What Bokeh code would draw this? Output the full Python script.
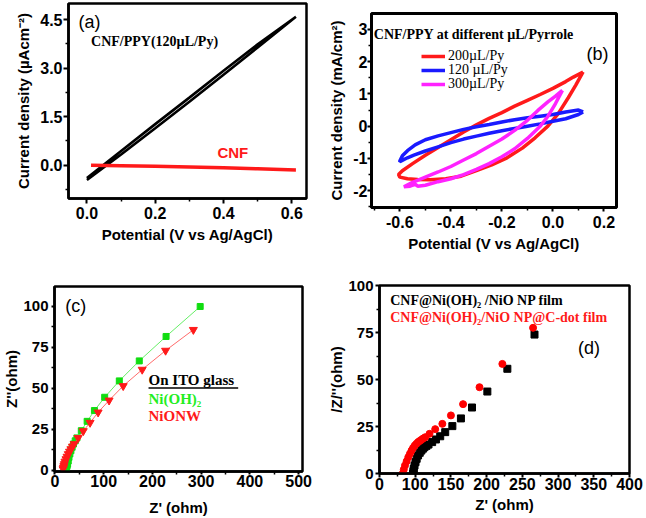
from bokeh.plotting import figure
from bokeh.layouts import row, column
from bokeh.models import Range1d, FixedTicker, PrintfTickFormatter, Label, Legend, LegendItem
from bokeh.embed import file_html
from bokeh.resources import INLINE

# ---------------- data ----------------
# (a) CV: CNF/PPY loop and bare CNF
a_ppy_x = [0.0, 0.1, 0.2, 0.3, 0.4, 0.5, 0.612, 0.5, 0.4, 0.3, 0.2, 0.1, 0.0]
a_ppy_y = [-0.46, 0.33, 1.14, 1.96, 2.80, 3.64, 4.59, 3.74, 2.92, 2.09, 1.27, 0.44, -0.40]
a_cnf_x = [0.012, 0.1, 0.2, 0.3, 0.4, 0.5, 0.612]
a_cnf_y = [0.0, -0.015, -0.035, -0.055, -0.08, -0.11, -0.145]
a_xticks = [0.0, 0.2, 0.4, 0.6]
a_xminor = [0.1, 0.3, 0.5]
a_yticks = [0.0, 1.5, 3.0, 4.5]
a_yminor = [-0.75, 0.75, 2.25, 3.75]

# (b) CV loops at different uL/Pyrrole
b_red_x = [0.118, 0.08, 0.05, 0.0, -0.05, -0.1, -0.15, -0.2, -0.25, -0.3, -0.35, -0.4, -0.45, -0.5,
           -0.55, -0.59, -0.605, -0.6, -0.57, -0.53, -0.48, -0.42, -0.36, -0.3, -0.24, -0.18, -0.12,
           -0.07, -0.02, 0.02, 0.06, 0.09, 0.118]
b_red_y = [1.68, 1.52, 1.38, 1.17, 0.98, 0.80, 0.62, 0.42, 0.24, 0.04, -0.18, -0.42, -0.66, -0.90,
           -1.16, -1.38, -1.50, -1.58, -1.63, -1.65, -1.66, -1.63, -1.55, -1.38, -1.20, -0.98, -0.68,
           -0.36, 0.0, 0.38, 0.88, 1.28, 1.68]
b_blue_x = [0.118, 0.1, 0.05, 0.0, -0.05, -0.1, -0.15, -0.2, -0.25, -0.3, -0.35, -0.4, -0.45, -0.5,
            -0.54, -0.57, -0.59, -0.6, -0.6, -0.57, -0.545, -0.5, -0.45, -0.4, -0.35, -0.3, -0.25,
            -0.2, -0.15, -0.1, -0.05, 0.0, 0.05, 0.1, 0.118]
b_blue_y = [0.44, 0.50, 0.44, 0.36, 0.31, 0.26, 0.20, 0.13, 0.05, -0.02, -0.10, -0.20, -0.30, -0.42,
            -0.58, -0.76, -0.92, -1.08, -1.10, -0.98, -0.90, -0.77, -0.64, -0.51, -0.40, -0.31, -0.22,
            -0.14, -0.07, 0.0, 0.07, 0.15, 0.23, 0.36, 0.44]
b_mag_x = [0.037, 0.01, -0.02, -0.06, -0.1, -0.15, -0.2, -0.25, -0.3, -0.35, -0.4, -0.45, -0.5, -0.55,
           -0.584, -0.56, -0.54, -0.53, -0.5, -0.45, -0.4, -0.35, -0.3, -0.25, -0.2, -0.15, -0.1,
           -0.05, -0.02, 0.01, 0.037]
b_mag_y = [1.11, 0.93, 0.75, 0.48, 0.18, -0.13, -0.40, -0.62, -0.85, -1.05, -1.25, -1.42, -1.58, -1.74,
           -1.88, -1.86, -1.80, -1.86, -1.83, -1.72, -1.63, -1.50, -1.34, -1.16, -0.95, -0.70, -0.38,
           0.0, 0.30, 0.70, 1.11]
b_labels = ["200\u00b5L/Py", "120 \u00b5L/Py", "300\u00b5L/Py"]
b_xticks = [-0.6, -0.4, -0.2, 0.0, 0.2]
b_xminor = [-0.7, -0.5, -0.3, -0.1, 0.1]
b_yticks = [-2, -1, 0, 1, 2, 3]
b_yminor = [-2.5, -1.5, -0.5, 0.5, 1.5, 2.5]

# (c) Nyquist on ITO glass
c_ni_x = [23.2, 24.0, 25.0, 25.9, 27.2, 28.7, 30.5, 32.7, 35.2, 38.0, 41.5, 45.0, 54, 66, 81, 102, 132, 173, 228, 298]
c_ni_y = [0.0, 1.5, 2.8, 3.7, 5.5, 7.7, 9.8, 11.8, 13.9, 15.9, 17.8, 19.6, 24.0, 29.7, 36.3, 44.4, 54.4, 66.6, 81.5, 99.8]
c_nw_x = [16.6, 17.5, 18.2, 19.2, 20.5, 22.6, 24.8, 27.3, 29.8, 32.7, 36.0, 39.4, 47.5, 58, 72, 88.5, 111, 140, 179, 227, 284]
c_nw_y = [0.6, 1.5, 2.5, 3.7, 5.2, 6.7, 8.2, 9.8, 11.3, 12.8, 14.4, 15.9, 19.6, 23.8, 28.9, 35.2, 42.5, 51.3, 61.3, 72.9, 85.6]
c_xticks = [0, 100, 200, 300, 400, 500]
c_xminor = [50, 150, 250, 350, 450]
c_yticks = [0, 25, 50, 75, 100]
c_yminor = [12.5, 37.5, 62.5, 87.5]

# (d) Nyquist of the films
d_np_x = [97, 97.5, 98, 99, 100.4, 102, 104, 106.3, 108.6, 110.8, 113, 115.8, 118.6, 123.7, 129, 135, 142, 152, 164, 179.5, 201, 229, 267]
d_np_y = [0, 1.2, 2.5, 4.2, 6.0, 7.8, 9.6, 11.0, 12.2, 13.2, 14.0, 14.7, 15.4, 16.7, 18.1, 19.8, 22.0, 25.2, 29.3, 35.1, 43.6, 55.7, 73.9]
d_cd_x = [82.5, 84, 85.7, 88, 90.3, 92.6, 94.9, 97, 99.4, 101.7, 104, 106.3, 108.6, 111, 114, 120, 128, 138, 150, 167, 190, 222, 265]
d_cd_y = [0, 2.1, 4.3, 6.5, 8.7, 10.5, 12.2, 13.6, 14.9, 15.8, 16.7, 17.3, 17.9, 18.6, 19.3, 21.1, 23.6, 26.4, 30.9, 36.9, 45.9, 58.3, 77.5]
d_xticks = [50, 100, 150, 200, 250, 300, 350, 400]
d_xtick_labels = ["0", "100", "150", "200", "250", "300", "350", "400"]
d_xminor = [75, 125, 175, 225, 275, 325, 375]
d_yticks = [0, 25, 50, 75, 100]
d_yminor = [12.5, 37.5, 62.5, 87.5]

SANS = "Liberation Sans"
SERIF = "Liberation Serif"


def make(w, h, xr, yr, bl, br, bt, bb):
    p = figure(width=w, height=h, x_range=Range1d(*xr), y_range=Range1d(*yr),
               toolbar_location=None, output_backend="svg", title=None,
               min_border_left=bl, min_border_right=br, min_border_top=bt, min_border_bottom=bb)
    p.frame_align = False
    p.xgrid.visible = False
    p.ygrid.visible = False
    p.outline_line_color = "black"
    p.outline_line_width = 2.5
    p.outline_line_alpha = 1.0
    p.background_fill_color = "white"
    p.border_fill_color = "white"
    return p


def style_axes(p, xt, xm, yt, ym, xfont="16px", yfont="16px", tick_out=5, xstand=2, ystand=1,
               xlab_stand=4, ylab_stand=8):
    for ax, t, m, fs, st, ls in ((p.xaxis[0], xt, xm, xfont, xstand, xlab_stand),
                                 (p.yaxis[0], yt, ym, yfont, ystand, ylab_stand)):
        ax.ticker = FixedTicker(ticks=t, minor_ticks=m)
        ax.axis_line_width = 2.5
        ax.axis_line_color = "black"
        ax.major_tick_line_width = 2
        ax.minor_tick_line_width = 1.5
        ax.major_tick_in = 0
        ax.minor_tick_in = 0
        ax.major_tick_out = tick_out
        ax.minor_tick_out = 3
        ax.major_label_text_font = SANS
        ax.major_label_text_font_style = "bold"
        ax.major_label_text_font_size = fs
        ax.major_label_text_color = "black"
        ax.major_label_standoff = st
        ax.axis_label_text_font = SANS
        ax.axis_label_text_font_style = "bold"
        ax.axis_label_text_font_size = "15px"
        ax.axis_label_text_color = "black"
        ax.axis_label_standoff = ls


def lab(p, x, y, text, font=SANS, size="14px", style="normal", color="black"):
    p.add_layout(Label(x=x, y=y, text=text, text_font=font, text_font_size=size,
                       text_font_style=style, text_color=color,
                       text_baseline="middle", text_align="left"))


# ---------------- (a) ----------------
pa = make(325, 262, (-0.054, 0.643), (-1.03, 5.0), 68, 19, 3, 64)
pa.line(a_ppy_x, a_ppy_y, line_color="black", line_width=2.6)
pa.line(a_cnf_x, a_cnf_y, line_color="#ff1a1a", line_width=3.5)
style_axes(pa, a_xticks, a_xminor, a_yticks, a_yminor, tick_out=5, xstand=3, ystand=1,
           xlab_stand=4, ylab_stand=5)
pa.xaxis[0].formatter = PrintfTickFormatter(format="%.1f")
pa.yaxis[0].formatter = PrintfTickFormatter(format="%.1f")
pa.xaxis[0].axis_label = "Potential (V vs Ag/AgCl)"
pa.yaxis[0].axis_label = "Current density (\u00b5Acm\u207b\u00b2)"
lab(pa, -0.025, 4.44, "(a)", size="18px")
lab(pa, 0.012, 3.82, "CNF/PPY(120\u00b5L/Py)", font=SERIF, size="14px", style="bold")
lab(pa, 0.382, 0.38, "CNF", size="15px", style="bold", color="#ff1a1a")

# ---------------- (b) ----------------
pb = make(321, 262, (-0.711, 0.249), (-2.52, 3.49), 46, 30, 13, 55)
rb1 = pb.line(b_red_x, b_red_y, line_color="#ff1a1a", line_width=3.5)
rb2 = pb.line(b_blue_x, b_blue_y, line_color="#1a1aff", line_width=3.5)
rb3 = pb.line(b_mag_x, b_mag_y, line_color="#ff22ff", line_width=3.5)
style_axes(pb, b_xticks, b_xminor, b_yticks, b_yminor, tick_out=4, ystand=0, ylab_stand=5,
           xstand=4, xlab_stand=4)
pb.xaxis[0].formatter = PrintfTickFormatter(format="%.1f")
pb.yaxis[0].formatter = PrintfTickFormatter(format="%d")
pb.outline_line_width = 3
pb.xaxis[0].axis_label = "Potential (V vs Ag/AgCl)"
pb.yaxis[0].axis_label = "Current density (mA/cm\u00b2)"
# one legend entry per row, each placed by the legend's own location
b_leg_rows = [143, 129, 115]
for lbl, rend, vy in zip(b_labels, [rb1, rb2, rb3], b_leg_rows):
    pb.add_layout(Legend(items=[LegendItem(label=lbl, renderers=[rend])],
                         location=(50, vy), padding=0, margin=0, spacing=0,
                         glyph_width=24, glyph_height=12, label_height=12, label_standoff=3,
                         label_text_font=SERIF, label_text_font_size="14px",
                         label_text_color="black",
                         border_line_alpha=0, background_fill_alpha=0))
lab(pb, -0.702, 2.84, "CNF/PPY at different \u00b5L/Pyrrole", font=SERIF, size="14px", style="bold")
lab(pb, 0.131, 2.25, "(b)", size="18px")

# ---------------- (c) ----------------
pc = make(325, 256, (-1, 508), (-0.9, 112), 50, 23, 24, 47)
pc.line(c_ni_x, c_ni_y, line_color="#66ee66", line_width=1)
pc.scatter(c_ni_x, c_ni_y, marker="square", size=6, fill_color="#11dd11", line_color="#11dd11")
pc.line(c_nw_x, c_nw_y, line_color="#ff6b6b", line_width=1)
pc.scatter(c_nw_x, c_nw_y, marker="inverted_triangle", size=8, fill_color="#ff1a1a", line_color="#ff1a1a")
style_axes(pc, c_xticks, c_xminor, c_yticks, c_yminor, tick_out=3, xfont="16px", yfont="15px",
           ystand=3, ylab_stand=0, xstand=0, xlab_stand=9)
pc.xaxis[0].axis_label = "Z' (ohm)"
pc.yaxis[0].axis_label = "Z''(ohm)"
lab(pc, 21, 100.4, "(c)", size="18px")
lab(pc, 192, 54.7, "On ITO  glass", font=SERIF, size="15px", style="bold")
pc.line([192, 376], [50.0, 50.0], line_color="black", line_width=1.5)
lab(pc, 192, 43.6, "Ni(OH)\u2082", font=SERIF, size="15px", style="bold", color="#22ee22")
lab(pc, 192, 33.2, "NiONW", font=SERIF, size="15px", style="bold", color="#ff1a1a")

# ---------------- (d) ----------------
pd_ = make(321, 256, (50, 400), (0, 100), 48, 17, 23, 45)
pd_.scatter(d_np_x, d_np_y, marker="square", size=7, fill_color="black", line_color="black")
pd_.scatter(d_cd_x, d_cd_y, marker="circle", size=7, fill_color="#ff0000", line_color="#ff0000")
style_axes(pd_, d_xticks, d_xminor, d_yticks, d_yminor, tick_out=4, xfont="16px", yfont="15px",
           ystand=2, ylab_stand=0, xstand=0, xlab_stand=3)
pd_.xaxis[0].major_label_overrides = {t: s for t, s in zip(d_xticks, d_xtick_labels)}
pd_.xaxis[0].axis_label = "Z' (ohm)"
pd_.yaxis[0].axis_label = "/Z/''(ohm)"
lab(pd_, 65, 92.0, "CNF@Ni(OH)\u2082 /NiO NP film", font=SERIF, size="14px", style="bold")
lab(pd_, 65, 83.0, "CNF@Ni(OH)\u2082/NiO NP@C-dot film", font=SERIF, size="14px", style="bold", color="#ff1a1a")
lab(pd_, 328, 66.5, "(d)", size="18px")

root = column(row(pa, pb), row(pc, pd_), styles={"margin": "0px"})

open("out.html", "w").write(file_html(root, INLINE))
